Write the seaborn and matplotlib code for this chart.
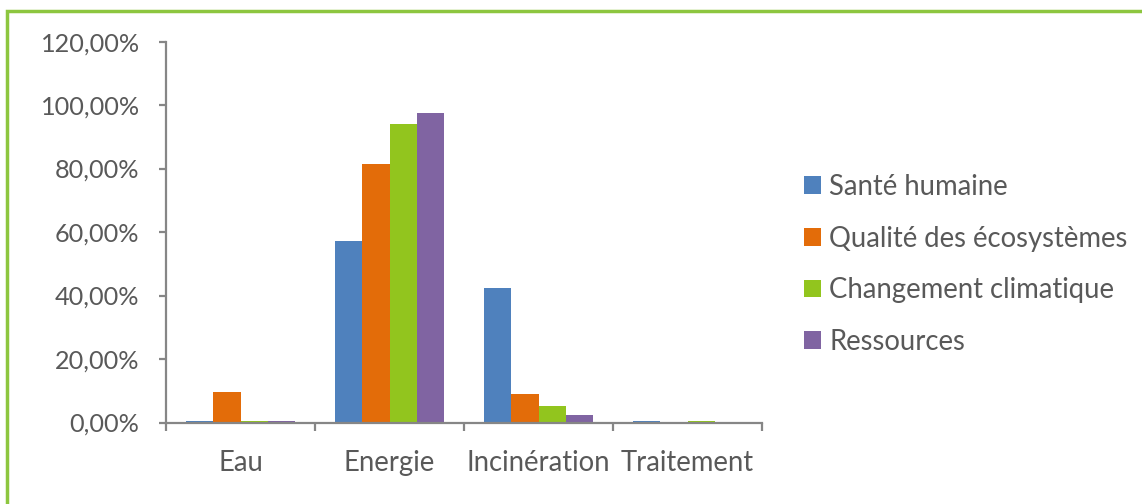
import matplotlib
matplotlib.use("Agg")
import matplotlib.pyplot as plt
from matplotlib.patches import Rectangle
from matplotlib.ticker import FuncFormatter, FixedLocator
import pandas as pd
import seaborn as sns

# Data: share of each impact category by process step (%)
categories = ["Eau", "Energie", "Incinération", "Traitement"]
series_names = ["Santé humaine", "Qualité des écosystèmes",
                "Changement climatique", "Ressources"]
sante_humaine = [0.5, 57.3, 42.3, 0.4]
qualite_ecosystemes = [9.5, 81.5, 9.0, 0.3]
changement_climatique = [0.5, 94.1, 5.2, 0.5]
ressources = [0.4, 97.4, 2.3, 0.1]
y_ticks = [0, 20, 40, 60, 80, 100, 120]

colors = ["#4F81BD", "#E36C09", "#92C51E", "#8064A2"]
text_color = "#595959"
axis_color = "#868686"

values = [sante_humaine, qualite_ecosystemes, changement_climatique, ressources]
rows = []
for name, vals in zip(series_names, values):
    for cat, v in zip(categories, vals):
        rows.append({"Catégorie": cat, "Impact": name, "Valeur": v})
df = pd.DataFrame(rows)

sns.set_theme(style="white")
plt.rcParams["font.family"] = ["Lato", "DejaVu Sans"]

W, H = 1142, 504
fig = plt.figure(figsize=(W / 100, H / 100), dpi=100)
ax = fig.add_axes([166 / W, 1 - 422.5 / H, (762 - 166) / W, (422.5 - 41.6) / H])

sns.barplot(data=df, x="Catégorie", y="Valeur", hue="Impact",
            order=categories, hue_order=series_names, palette=colors,
            width=0.725, saturation=1, ax=ax, edgecolor="none", linewidth=0)

ax.set_xlim(-0.5, len(categories) - 0.5)
ax.set_ylim(0, 120)
ax.yaxis.set_major_locator(FixedLocator(y_ticks))
ax.yaxis.set_major_formatter(FuncFormatter(lambda v, p: f"{v:.2f}%".replace(".", ",")))
ax.set_xlabel("")
ax.set_ylabel("")

for side in ["top", "right"]:
    ax.spines[side].set_visible(False)
for side in ["left", "bottom"]:
    ax.spines[side].set_color(axis_color)
    ax.spines[side].set_linewidth(1.6)

fs_y = 18.2
fs_txt = 19.8
ax.tick_params(axis="y", which="major", length=5, width=1.6, color=axis_color,
               labelcolor=text_color, labelsize=fs_y, pad=14, direction="out", left=True)
ax.tick_params(axis="x", which="major", length=0, labelcolor=text_color,
               labelsize=fs_txt, pad=20)
ax.set_xticks([i - 0.5 for i in range(len(categories) + 1)], minor=True)
ax.tick_params(axis="x", which="minor", length=6, width=1.6, color=axis_color,
               direction="out", bottom=True)

handles, labels = ax.get_legend_handles_labels()
ax.legend(handles, labels, loc="upper left", bbox_to_anchor=(804 / W, 1 - 174 / H),
          bbox_transform=fig.transFigure, frameon=False, fontsize=fs_txt,
          labelcolor=text_color, handlelength=0.62, handleheight=0.62,
          handletextpad=0.3, labelspacing=0.93, borderpad=0, borderaxespad=0)

# Green frame around the chart area
fig.patches.append(Rectangle((7 / W, -0.2), 1.2, 1.2 - 11 / H,
                             transform=fig.transFigure, fill=False,
                             edgecolor="#8DC63F", linewidth=2.5))

fig.savefig("out.png", dpi=100, facecolor="white")
